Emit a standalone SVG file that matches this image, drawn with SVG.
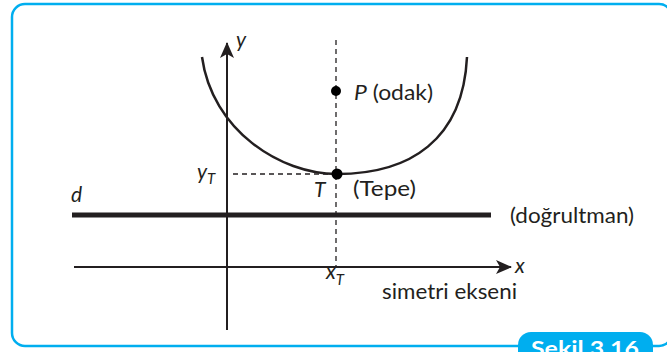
<svg xmlns="http://www.w3.org/2000/svg" width="667" height="352" viewBox="0 0 667 352">
<style>
  .t { font-family: "Lato", "Liberation Sans", sans-serif; font-size: 21px; fill: #231f20; }
  .i { font-style: italic; }
  .sub { font-size: 15px; }
  .ax { stroke: #231f20; stroke-width: 2; fill: none; }
  .dash { stroke: #231f20; stroke-width: 1.3; stroke-dasharray: 5 4; fill: none; }
</style>
<defs>
  <marker id="arr" viewBox="0 0 16 14" refX="15" refY="7" markerWidth="16" markerHeight="14" markerUnits="userSpaceOnUse" orient="auto">
    <path d="M0,0 L16,7 L0,14 L4,7 Z" fill="#231f20"/>
  </marker>
</defs>
<rect width="667" height="352" fill="#ffffff"/>
<g id="frame">
  <rect x="12" y="4" width="660" height="342" rx="13" fill="none" stroke="#00aeef" stroke-width="2.5"/>
  <rect x="518" y="332" width="135" height="40" rx="13" fill="#00aeef"/>
  <text x="585" y="356" text-anchor="middle" font-family="Lato, 'Liberation Sans', sans-serif" font-weight="bold" font-size="20" fill="#ffffff" textLength="108" lengthAdjust="spacingAndGlyphs">Şekil 3.16</text>
</g>
<g id="connectors">
  <line class="ax" x1="227" y1="330" x2="227" y2="43" marker-end="url(#arr)"/>
  <line class="ax" x1="74" y1="267" x2="511" y2="267" marker-end="url(#arr)"/>
  <line x1="72" y1="215" x2="491" y2="215" stroke="#231f20" stroke-width="5"/>
  <line class="dash" x1="336" y1="40" x2="336" y2="266"/>
  <line class="dash" x1="233" y1="174" x2="336" y2="174"/>
  <path d="M202,57 C212,130 280,174 337,174 C410,174 463,140 467,57" fill="none" stroke="#231f20" stroke-width="2.5"/>
</g>
<g id="focus">
  <circle cx="336" cy="91" r="5"/>
  <text class="t" x="354" y="100" textLength="79" lengthAdjust="spacingAndGlyphs"><tspan class="i">P</tspan> (odak)</text>
</g>
<g id="vertex">
  <circle cx="337" cy="174" r="5.5"/>
  <text class="t i" x="314" y="197">T</text>
  <text class="t" x="353" y="196" textLength="63" lengthAdjust="spacingAndGlyphs">(Tepe)</text>
</g>
<g id="labels">
  <text class="t i" x="236" y="47">y</text>
  <text class="t i" x="515" y="273">x</text>
  <text class="t i" x="71" y="202">d</text>
  <text class="t i" x="197" y="179">y<tspan class="sub" dy="5">T</tspan></text>
  <text class="t i" x="326" y="279">x<tspan class="sub" dy="6">T</tspan></text>
  <text class="t" x="510" y="223" textLength="124" lengthAdjust="spacingAndGlyphs">(doğrultman)</text>
  <text class="t" x="382" y="299" textLength="135" lengthAdjust="spacingAndGlyphs">simetri ekseni</text>
</g>
</svg>
